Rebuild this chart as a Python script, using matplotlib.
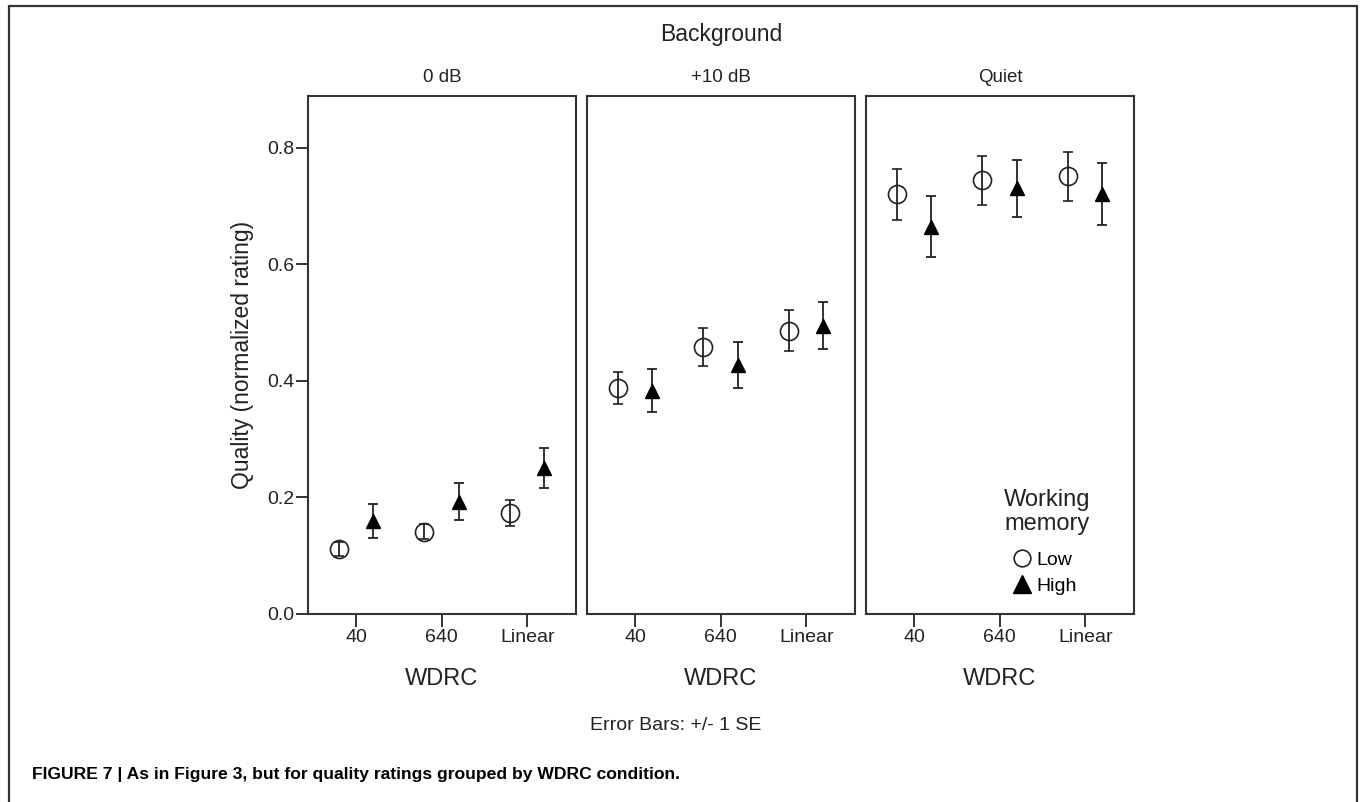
#Quality ratings grouped by WDRC condition, one panel per background,
#low vs high working memory groups with +/- 1 SE error bars.

import numpy as np
import matplotlib.pyplot as plt
from matplotlib.lines import Line2D
from matplotlib.patches import Rectangle

plt.rcParams['font.family'] = ['Liberation Sans', 'DejaVu Sans']

backgrounds = ['0 dB', '+10 dB', 'Quiet']
wdrc = ['40', '640', 'Linear']
yticks = [0.0, 0.2, 0.4, 0.6, 0.8]

#Means and standard errors
low_mean = [[0.112, 0.141, 0.173],
            [0.388, 0.458, 0.486],
            [0.720, 0.744, 0.751]]
low_se = [[0.012, 0.013, 0.022],
          [0.028, 0.033, 0.035],
          [0.044, 0.042, 0.042]]
high_mean = [[0.159, 0.193, 0.251],
             [0.383, 0.427, 0.495],
             [0.665, 0.731, 0.721]]
high_se = [[0.029, 0.032, 0.034],
           [0.037, 0.039, 0.040],
           [0.052, 0.049, 0.053]]

W, H = 1363, 802
ink = '#222222'
frame = '#333333'

def fx(px):
    return px / W

def fy(py):
    return 1 - py / H

fig = plt.figure(figsize=(W / 100, H / 100), dpi=100)

#outer frame of the figure
fig.patches.append(Rectangle((fx(9), fy(812)), fx(1357) - fx(9), fy(6) - fy(812),
                             transform=fig.transFigure, fill=False,
                             edgecolor=frame, linewidth=1.6))

lefts = [308, 587, 866]
top, bottom, width = 96, 614, 268
x = np.arange(1, 4)
off = 0.2

axes = []
for i, bg in enumerate(backgrounds):
    ax = fig.add_axes([fx(lefts[i]), fy(bottom), width / W, (bottom - top) / H])
    axes.append(ax)

    ax.errorbar(x - off, low_mean[i], yerr=low_se[i], fmt='o', markersize=13,
                markerfacecolor='none', markeredgecolor=ink, markeredgewidth=1.2,
                ecolor=ink, elinewidth=1.3, capsize=3.5, capthick=1.3)
    ax.errorbar(x + off, high_mean[i], yerr=high_se[i], fmt='^', markersize=10,
                markerfacecolor='black', markeredgecolor='black',
                ecolor=ink, elinewidth=1.3, capsize=3.5, capthick=1.3)

    ax.set_xlim(0.44, 3.57)
    ax.set_ylim(0, 0.889)
    ax.set_xticks(x)
    ax.set_xticklabels(wdrc, fontsize=14, color=ink)
    ax.tick_params(axis='x', direction='out', length=9, width=1.4, color=frame, pad=2)
    for s in ax.spines.values():
        s.set_linewidth(1.5)
        s.set_color(frame)

    if i == 0:
        ax.set_yticks(yticks)
        ax.set_yticklabels(['%.1f' % v for v in yticks], fontsize=14, color=ink)
        ax.tick_params(axis='y', direction='out', length=9, width=1.4, color=frame, pad=1)
    else:
        ax.set_yticks([])

    cx = lefts[i] + width / 2
    fig.text(fx(cx), fy(78), bg, ha='center', va='center', fontsize=13.5, color=ink)
    fig.text(fx(cx), fy(679), 'WDRC', ha='center', va='center', fontsize=17, color=ink)

fig.text(fx(721), fy(35), 'Background', ha='center', va='center', fontsize=16.5, color=ink)
fig.text(fx(243), fy(355), 'Quality (normalized rating)', rotation=90,
         ha='center', va='center', fontsize=16.5, color=ink)
fig.text(fx(676), fy(725), 'Error Bars: +/- 1 SE', ha='center', va='center',
         fontsize=14, color=ink)
fig.text(fx(32), fy(775), 'FIGURE 7 | As in Figure 3, but for quality ratings grouped by WDRC condition.',
         ha='left', va='center', fontsize=12.6, fontweight='bold', color='black')

#Legend inside the Quiet panel
fig.text(fx(1047), fy(500), 'Working', ha='center', va='center', fontsize=17, color=ink)
fig.text(fx(1047), fy(524), 'memory', ha='center', va='center', fontsize=17, color=ink)
handles = [Line2D([], [], marker='o', linestyle='none', markersize=12,
                  markerfacecolor='none', markeredgecolor=ink, markeredgewidth=1.2),
           Line2D([], [], marker='^', linestyle='none', markersize=13,
                  markerfacecolor='black', markeredgecolor='black')]
axes[2].legend(handles, ['Low', 'High'], loc='upper left',
               bbox_to_anchor=(fx(1013), fy(551)), bbox_transform=fig.transFigure,
               frameon=False, fontsize=14, handlelength=0.9, handletextpad=0.3,
               labelspacing=0.45, borderpad=0, borderaxespad=0)

plt.savefig('out.png', dpi=100)
